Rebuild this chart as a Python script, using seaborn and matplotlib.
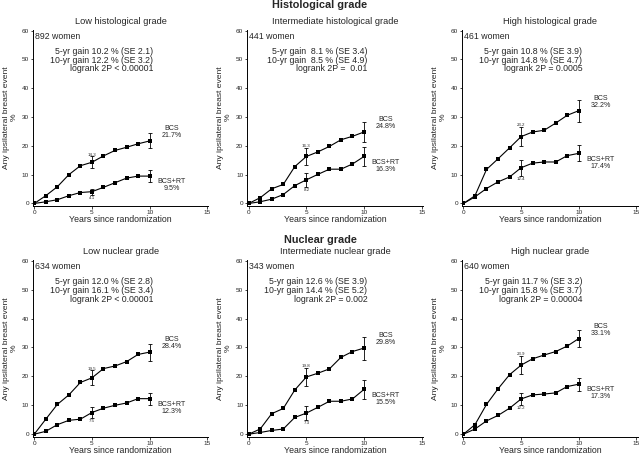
import matplotlib
matplotlib.use("Agg")
import matplotlib.pyplot as plt
import seaborn as sns
import pandas as pd

sns.set_style("ticks")
plt.rcParams['font.family'] = ['Liberation Sans', 'DejaVu Sans']

years = list(range(11))

panel_titles = ["Low histological grade", "Intermediate histological grade", "High histological grade",
                "Low nuclear grade", "Intermediate nuclear grade", "High nuclear grade"]
group_titles = ["Histological grade", "Nuclear grade"]
women = [892, 441, 461, 634, 343, 640]
gain_texts = [
    "5-yr gain 10.2 % (SE 2.1)\n10-yr gain 12.2 % (SE 3.2)\nlogrank 2P < 0.00001",
    "5-yr gain  8.1 % (SE 3.4)\n10-yr gain  8.5 % (SE 4.9)\nlogrank 2P =  0.01",
    "5-yr gain 10.8 % (SE 3.9)\n10-yr gain 14.8 % (SE 4.7)\nlogrank 2P = 0.0005",
    "5-yr gain 12.0 % (SE 2.8)\n10-yr gain 16.1 % (SE 3.4)\nlogrank 2P < 0.00001",
    "5-yr gain 12.6 % (SE 3.9)\n10-yr gain 14.4 % (SE 5.2)\nlogrank 2P = 0.002",
    "5-yr gain 11.7 % (SE 3.2)\n10-yr gain 15.8 % (SE 3.7)\nlogrank 2P = 0.00004",
]

bcs_low_hist = [0, 2.7, 5.8, 10.0, 13.1, 14.3, 16.5, 18.4, 19.5, 20.7, 21.7]
rt_low_hist = [0, 0.6, 1.3, 2.7, 3.8, 4.1, 5.6, 7.2, 8.8, 9.5, 9.5]
bcs_int_hist = [0, 2.0, 5.1, 6.6, 12.8, 16.3, 17.9, 19.8, 22.1, 23.3, 24.8]
rt_int_hist = [0, 0.6, 1.5, 3.1, 6.2, 8.2, 10.1, 11.9, 11.9, 13.7, 16.3]
bcs_high_hist = [0, 2.7, 11.8, 15.5, 19.3, 23.2, 24.8, 25.4, 27.9, 30.6, 32.2]
rt_high_hist = [0, 2.3, 5.2, 7.5, 9.2, 12.4, 14.0, 14.4, 14.4, 16.6, 17.4]
bcs_low_nuc = [0, 5.2, 10.3, 13.6, 17.9, 19.5, 22.7, 23.6, 25.1, 27.6, 28.4]
rt_low_nuc = [0, 1.0, 3.3, 4.8, 5.2, 7.5, 9.0, 10.0, 10.8, 12.3, 12.3]
bcs_int_nuc = [0, 1.8, 7.1, 8.9, 15.3, 19.8, 21.1, 22.6, 26.6, 28.6, 29.8]
rt_int_nuc = [0, 0.6, 1.3, 1.8, 5.8, 7.3, 9.3, 11.4, 11.4, 12.2, 15.5]
bcs_high_nuc = [0, 3.3, 10.3, 15.7, 20.6, 23.9, 26.1, 27.4, 28.6, 30.5, 33.1]
rt_high_nuc = [0, 1.8, 4.6, 6.5, 9.0, 12.2, 13.6, 13.9, 14.3, 16.5, 17.3]

# error bar half-widths at years 5 and 10
bcs_err = [[2.0, 2.6], [2.9, 3.6], [3.4, 3.8], [2.6, 2.9], [3.2, 4.0], [3.2, 2.9]]
rt_err = [[1.0, 2.1], [2.4, 3.4], [2.8, 2.8], [1.8, 2.1], [2.3, 3.2], [2.0, 2.2]]

bcs_all = [bcs_low_hist, bcs_int_hist, bcs_high_hist, bcs_low_nuc, bcs_int_nuc, bcs_high_nuc]
rt_all = [rt_low_hist, rt_int_hist, rt_high_hist, rt_low_nuc, rt_int_nuc, rt_high_nuc]

fig = plt.figure(figsize=(6.4, 4.54), dpi=100)

col_left = [0.0517, 0.3867, 0.7223]
col_w = 0.2740
row_bottom = [0.5467, 0.0385]
row_h = [0.388, 0.389]

for i in range(6):
    r, c = divmod(i, 3)
    ax = fig.add_axes([col_left[c], row_bottom[r], col_w, row_h[r]])
    df = pd.DataFrame({"year": years, "BCS": bcs_all[i], "BCS+RT": rt_all[i]})
    for col in ["BCS", "BCS+RT"]:
        sns.lineplot(data=df, x="year", y=col, ax=ax, color="black", linewidth=0.8,
                     marker="s", markersize=2.8, markeredgewidth=0)
    for vals, errs in [(bcs_all[i], bcs_err[i]), (rt_all[i], rt_err[i])]:
        ax.errorbar([5, 10], [vals[5], vals[10]], yerr=errs, fmt="none", ecolor="black",
                    elinewidth=0.6, capsize=1.3, capthick=0.6)
    ax.set_xlim(-0.1, 15.1)
    ax.set_ylim(-0.8, 60.3)
    ax.set_xticks([0, 5, 10, 15])
    ax.set_yticks([0, 10, 20, 30, 40, 50, 60])
    ax.tick_params(labelsize=4.6, length=1.8, width=0.6, pad=1.2)
    for s in ["top", "right"]:
        ax.spines[s].set_visible(False)
    for s in ["left", "bottom"]:
        ax.spines[s].set_linewidth(0.7)
        ax.spines[s].set_color("black")
    ax.set_xlabel("Years since randomization", fontsize=6.3, labelpad=0.3)
    ax.set_ylabel("Any ipsilateral breast event\n%", fontsize=6.1, labelpad=3, linespacing=1.1)
    ax.set_title(panel_titles[i], fontsize=6.7, pad=4)
    ax.text(0.01, 0.962, f"{women[i]} women", transform=ax.transAxes, fontsize=6.3,
            ha="left", va="center")
    ax.text(10.3, 49.7, gain_texts[i], fontsize=6.3, ha="right", va="center",
            multialignment="right", linespacing=0.95)
    b = bcs_all[i]
    t = rt_all[i]
    ax.text(11.9, b[10] + 3.0, f"BCS\n{b[10]:.1f}%", fontsize=5.1, ha="center", va="center",
            linespacing=1.0)
    ax.text(11.9, t[10] - 3.2, f"BCS+RT\n{t[10]:.1f}%", fontsize=5.1, ha="center", va="center",
            linespacing=1.0)
    ax.text(5, b[5] + bcs_err[i][0] + 0.6, f"{b[5]:.1f}", fontsize=3.2, ha="center", va="center")
    ax.text(5, t[5] - rt_err[i][0] - 1.2, f"{t[5]:.1f}", fontsize=3.2, ha="center", va="center")

fig.text(0.5, 1 - 5.5 / 454, group_titles[0], fontsize=7.8, fontweight="bold", ha="center", va="center")
fig.text(0.5, 1 - 239.5 / 454, group_titles[1], fontsize=7.8, fontweight="bold", ha="center", va="center")

fig.savefig("out.png", dpi=100, facecolor="white")
